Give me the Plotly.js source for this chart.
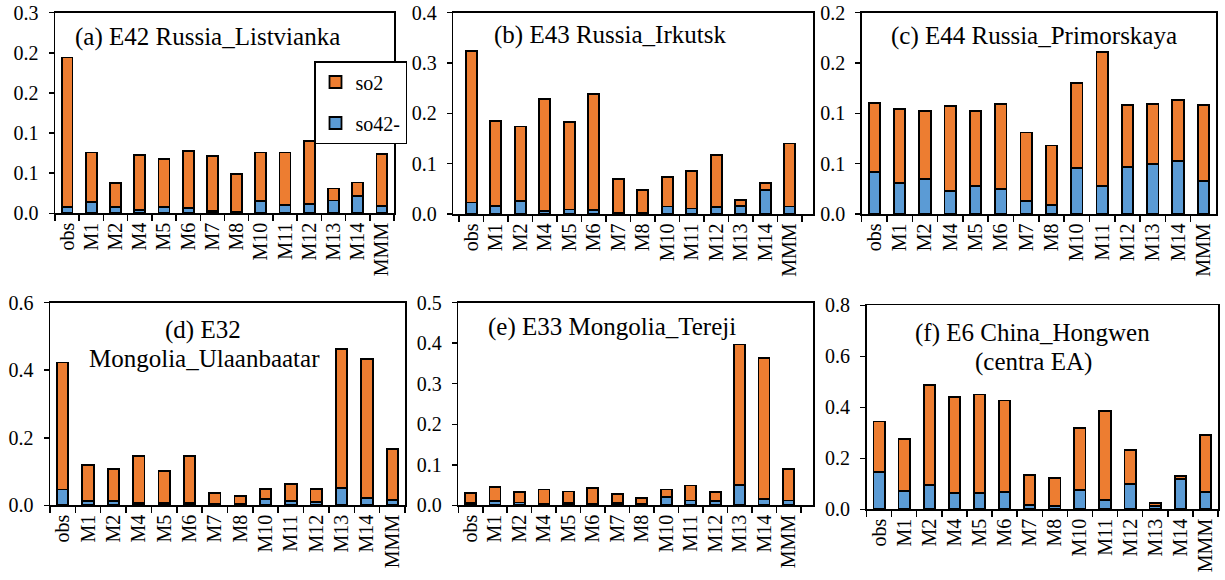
<!DOCTYPE html>
<html>
<head>
<meta charset="utf-8">
<script src="https://cdn.plot.ly/plotly-3.0.1.min.js"></script>
<style>html,body{margin:0;padding:0;background:#fff;}#chart{width:1225px;height:580px;}</style>
</head>
<body>
<div id="chart"></div>
<script>
// ---- categories ----
const categories = ['obs','M1','M2','M4','M5','M6','M7','M8','M10','M11','M12','M13','M14','MMM'];

// ---- series values (so42- bottom, so2 stacked on top) ----
const so42_a = [0.009,0.017,0.010,0.005,0.010,0.008,0.003,0.002,0.018,0.012,0.014,0.019,0.026,0.011];
const so2_a  = [0.224,0.074,0.035,0.082,0.071,0.085,0.083,0.057,0.073,0.079,0.094,0.018,0.020,0.078];

const so42_b = [0.023,0.016,0.026,0.006,0.009,0.008,0.003,0.003,0.015,0.011,0.014,0.016,0.048,0.015];
const so2_b  = [0.301,0.168,0.148,0.223,0.174,0.231,0.066,0.045,0.058,0.074,0.103,0.012,0.014,0.125];

const so42_c = [0.042,0.031,0.035,0.023,0.028,0.025,0.013,0.009,0.046,0.028,0.047,0.050,0.053,0.033];
const so2_c  = [0.068,0.073,0.067,0.084,0.074,0.084,0.068,0.059,0.084,0.133,0.061,0.059,0.060,0.075];

const so42_d = [0.047,0.013,0.013,0.006,0.008,0.006,0.005,0.003,0.019,0.012,0.010,0.051,0.022,0.016];
const so2_d  = [0.376,0.107,0.095,0.141,0.093,0.141,0.032,0.024,0.030,0.052,0.039,0.413,0.412,0.150];

const so42_e = [0.006,0.011,0.007,0.004,0.005,0.004,0.005,0.003,0.020,0.012,0.010,0.051,0.016,0.012];
const so2_e  = [0.024,0.034,0.025,0.035,0.029,0.038,0.023,0.015,0.019,0.037,0.022,0.346,0.347,0.077];

const so42_f = [0.146,0.073,0.095,0.065,0.065,0.068,0.018,0.014,0.076,0.037,0.099,0.012,0.118,0.068];
const so2_f  = [0.198,0.204,0.394,0.375,0.385,0.359,0.115,0.109,0.242,0.347,0.132,0.012,0.014,0.223];

// ---- y tick values / labels ----
const yTickVals_a = [0,0.06,0.12,0.18,0.24,0.30];
const yTickText_a = ['0.0','0.1','0.1','0.2','0.2','0.3'];
const yTickVals_b = [0,0.1,0.2,0.3,0.4];
const yTickText_b = ['0.0','0.1','0.2','0.3','0.4'];
const yTickVals_c = [0,0.05,0.10,0.15,0.20];
const yTickText_c = ['0.0','0.1','0.1','0.2','0.2'];
const yTickVals_d = [0,0.2,0.4,0.6];
const yTickText_d = ['0.0','0.2','0.4','0.6'];
const yTickVals_e = [0,0.1,0.2,0.3,0.4,0.5];
const yTickText_e = ['0.0','0.1','0.2','0.3','0.4','0.5'];
const yTickVals_f = [0,0.2,0.4,0.6,0.8];
const yTickText_f = ['0.0','0.2','0.4','0.6','0.8'];

const panelTitles = [
  ['(a) E42 Russia_Listvianka'],
  ['(b) E43 Russia_Irkutsk'],
  ['(c) E44 Russia_Primorskaya'],
  ['(d) E32','Mongolia_Ulaanbaatar'],
  ['(e) E33 Mongolia_Tereji'],
  ['(f) E6 China_Hongwen','(centra EA)']
];

// ---- layout helpers (pixel geometry) ----
const W = 1225, H = 580;
const FONT = '"Liberation Serif", "Times New Roman", serif';
const ORANGE = '#ED7D31', BLUE = '#5B9BD5';

const panels = [
  {so4: so42_a, so2: so2_a, tv: yTickVals_a, tt: yTickText_a, ymax: 0.3, x0: 55,    x1: 394,  y0: 12.7,  y1: 213.3, xr: [-0.5, 13.5]},
  {so4: so42_b, so2: so2_b, tv: yTickVals_b, tt: yTickText_b, ymax: 0.4, x0: 453.3, x1: 813,  y0: 12.7,  y1: 214,   xr: [-0.73, 13.95]},
  {so4: so42_c, so2: so2_c, tv: yTickVals_c, tt: yTickText_c, ymax: 0.2, x0: 861.7, x1: 1216, y0: 12.7,  y1: 214,   xr: [-0.5, 13.5]},
  {so4: so42_d, so2: so2_d, tv: yTickVals_d, tt: yTickText_d, ymax: 0.6, x0: 50,    x1: 405,  y0: 302.7, y1: 505.3, xr: [-0.5, 13.5]},
  {so4: so42_e, so2: so2_e, tv: yTickVals_e, tt: yTickText_e, ymax: 0.5, x0: 458.3, x1: 813,  y0: 302.7, y1: 505.3, xr: [-0.5, 14.0]},
  {so4: so42_f, so2: so2_f, tv: yTickVals_f, tt: yTickText_f, ymax: 0.8, x0: 866.5, x1: 1218, y0: 305.3, y1: 509.3, xr: [-0.5, 13.5]}
];

const titlePos = [
  [[207, 36.7]],
  [[610, 35]],
  [[1034, 36]],
  [[203, 330], [204, 358.5]],
  [[612, 327.3]],
  [[1032, 333.3], [1033, 361.7]]
];

const data = [];
const layout = {
  width: W, height: H,
  margin: {l: 0, r: 0, t: 0, b: 0},
  paper_bgcolor: '#fff', plot_bgcolor: '#fff',
  barmode: 'stack', bargap: 0.55,
  font: {family: FONT, color: '#000', size: 20},
  showlegend: true,
  legend: {
    x: 314/W, y: 1 - 61/H, xanchor: 'left', yanchor: 'top',
    bgcolor: '#fff', bordercolor: '#000', borderwidth: 1.5,
    font: {family: FONT, size: 20, color: '#000'},
    traceorder: 'grouped', tracegroupgap: 12, itemwidth: 30
  },
  annotations: []
};

panels.forEach((p, i) => {
  const n = i + 1;
  const xa = n === 1 ? 'x' : 'x' + n;
  const ya = n === 1 ? 'y' : 'y' + n;
  const xk = n === 1 ? 'xaxis' : 'xaxis' + n;
  const yk = n === 1 ? 'yaxis' : 'yaxis' + n;
  data.push({
    type: 'bar', x: categories, y: p.so4, name: 'so42-', xaxis: xa, yaxis: ya,
    marker: {color: BLUE, line: {color: '#000', width: 1.8}},
    showlegend: i === 0, legendgroup: 'g_so4', legendrank: 2, hoverinfo: 'skip'
  });
  data.push({
    type: 'bar', x: categories, y: p.so2, name: 'so2', xaxis: xa, yaxis: ya,
    marker: {color: ORANGE, line: {color: '#000', width: 1.8}},
    showlegend: i === 0, legendgroup: 'g_so2', legendrank: 1, hoverinfo: 'skip'
  });
  layout[xk] = {
    domain: [p.x0 / W, p.x1 / W], anchor: ya,
    type: 'category', range: p.xr,
    showline: true, linecolor: '#000', linewidth: 1.5, mirror: true,
    ticks: 'outside', tickson: 'boundaries', ticklen: 6, tickwidth: 1.5, tickcolor: '#000',
    tickangle: -90, tickfont: {family: FONT, size: 20, color: '#000'},
    showgrid: false, zeroline: false, fixedrange: true
  };
  layout[yk] = {
    domain: [1 - p.y1 / H, 1 - p.y0 / H], anchor: xa,
    range: [0, p.ymax], tickvals: p.tv, ticktext: p.tt,
    showline: true, linecolor: '#000', linewidth: 1.5, mirror: true,
    ticks: 'outside', ticklen: 5, tickwidth: 1.5, tickcolor: '#000',
    tickfont: {family: FONT, size: 20, color: '#000'}, ticklabelstandoff: 6,
    showgrid: false, zeroline: false, fixedrange: true
  };
  panelTitles[i].forEach((t, k) => {
    const pos = titlePos[i][k];
    layout.annotations.push({
      text: t, xref: 'paper', yref: 'paper',
      x: pos[0] / W, y: 1 - pos[1] / H, xanchor: 'center', yanchor: 'middle',
      showarrow: false, font: {family: FONT, size: 25, color: '#000'}
    });
  });
});

Plotly.newPlot('chart', data, layout, {displayModeBar: false, staticPlot: true});
</script>
</body>
</html>
